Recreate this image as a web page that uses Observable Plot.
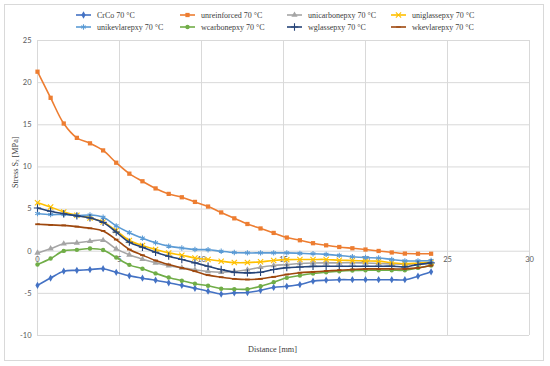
<!DOCTYPE html>
<html>
<head>
<meta charset="utf-8">
<script src="https://cdn.jsdelivr.net/npm/d3@7"></script>
<script src="https://cdn.jsdelivr.net/npm/@observablehq/plot@0.6"></script>
<style>
  html, body { margin: 0; padding: 0; background: #fff; }
  #wrap { position: relative; width: 550px; height: 366px; overflow: hidden; }
  #border { position: absolute; left: 4px; top: 4px; width: 540px; height: 357px; border: 1px solid #d9d9d9; box-sizing: border-box; }
  #chart { position: absolute; left: 0; top: 0; }
  .lg { position: absolute; display: flex; align-items: center; font-family: "Liberation Serif", serif; font-size: 8px; color: #404040; white-space: nowrap; }
  .lg svg { margin-right: 6px; }
</style>
</head>
<body>
<div id="wrap">
  <div id="border"></div>
  <div id="chart"></div>
  <div id="legend"></div>
</div>
<script>
// ---- data ----
const distance = [0, 0.8, 1.6, 2.4, 3.2, 4, 4.8, 5.6, 6.4, 7.2, 8, 8.8, 9.6, 10.4, 11.2, 12, 12.8, 13.6, 14.4, 15.2, 16, 16.8, 17.6, 18.4, 19.2, 20, 20.8, 21.6, 22.4, 23.2, 24];

const crco = [-4.05, -3.18, -2.37, -2.27, -2.18, -2.08, -2.5, -2.92, -3.2, -3.44, -3.75, -4.05, -4.4, -4.74, -5.08, -4.94, -4.9, -4.64, -4.3, -4.16, -3.95, -3.55, -3.44, -3.38, -3.38, -3.38, -3.38, -3.38, -3.38, -2.96, -2.45];
const unreinforced = [21.3, 18.2, 15.15, 13.45, 12.8, 11.96, 10.5, 9.2, 8.3, 7.45, 6.8, 6.4, 5.85, 5.3, 4.6, 3.9, 3.23, 2.7, 2.17, 1.62, 1.3, 0.95, 0.7, 0.5, 0.35, 0.2, 0.03, -0.15, -0.28, -0.3, -0.3];
const unicarbonepxy = [-0.2, 0.3, 0.88, 0.99, 1.18, 1.3, 0.28, -0.43, -0.95, -1.38, -1.73, -1.98, -2.2, -2.4, -2.49, -2.4, -2.2, -1.9, -1.7, -1.58, -1.46, -1.4, -1.38, -1.38, -1.35, -1.4, -1.45, -1.5, -1.55, -1.5, -1.45];
const uniglassepxy = [5.76, 5.25, 4.66, 4.27, 3.95, 3.47, 2.45, 1.27, 0.68, 0.2, -0.2, -0.47, -0.8, -0.98, -1.18, -1.35, -1.35, -1.26, -1.1, -1.0, -0.98, -0.98, -0.98, -1.07, -1.1, -1.15, -1.18, -1.38, -1.5, -1.4, -1.3];
const unikevlarepxy = [4.47, 4.35, 4.35, 4.23, 4.3, 4.03, 3.0, 2.2, 1.55, 1.0, 0.6, 0.38, 0.2, 0.18, 0.0, -0.15, -0.2, -0.2, -0.2, -0.2, -0.25, -0.3, -0.38, -0.5, -0.65, -0.75, -0.8, -0.98, -1.15, -1.15, -1.1];
const wcarbonepxy = [-1.58, -0.87, 0.04, 0.16, 0.32, 0.14, -0.75, -1.62, -2.08, -2.63, -3.12, -3.5, -3.85, -4.1, -4.45, -4.5, -4.5, -4.15, -3.67, -3.16, -2.88, -2.65, -2.49, -2.37, -2.29, -2.25, -2.25, -2.25, -2.25, -1.98, -1.7];
const wglassepxy = [5.13, 4.74, 4.45, 4.19, 3.95, 3.42, 2.27, 1.07, 0.47, -0.12, -0.59, -0.98, -1.38, -1.78, -2.17, -2.49, -2.57, -2.49, -2.17, -1.95, -1.88, -1.8, -1.78, -1.78, -1.78, -1.78, -1.78, -1.78, -1.86, -1.58, -1.38];
const wkevlarepxy = [3.2, 3.12, 3.06, 2.92, 2.72, 2.41, 1.38, 0.2, -0.47, -1.1, -1.58, -1.98, -2.37, -2.84, -3.08, -3.28, -3.36, -3.28, -3.04, -2.76, -2.55, -2.45, -2.35, -2.25, -2.17, -2.1, -2.1, -2.1, -2.1, -1.98, -1.7];

const seriesNames = ["CrCo 70 °C", "unreinforced 70 °C", "unicarbonepxy 70 °C", "uniglassepxy 70 °C", "unikevlarepxy 70 °C", "wcarbonepxy 70 °C", "wglassepxy 70 °C", "wkevlarepxy 70 °C"];
const seriesValues = [crco, unreinforced, unicarbonepxy, uniglassepxy, unikevlarepxy, wcarbonepxy, wglassepxy, wkevlarepxy];

const xTicks = [0, 5, 10, 15, 20, 25, 30];
const yTicks = [-10, -5, 0, 5, 10, 15, 20, 25];

// ---- styles ----
const dash = { draw(ctx, size) { const w = Math.sqrt(size) * 0.5; ctx.moveTo(-w, 0); ctx.lineTo(w, 0); } };
const styles = [
  { color: "#4472C4", symbol: "diamond", filled: true, r: 2.2 },
  { color: "#ED7D31", symbol: "square", filled: true, r: 2.4 },
  { color: "#A5A5A5", symbol: "triangle", filled: true, r: 2.3 },
  { color: "#FFC000", symbol: "times", filled: false, r: 2.5 },
  { color: "#5B9BD5", symbol: "asterisk", filled: false, r: 2.5 },
  { color: "#70AD47", symbol: "circle", filled: true, r: 2.2 },
  { color: "#264478", symbol: "plus", filled: false, r: 2.5 },
  { color: "#9E480E", symbol: dash, filled: false, r: 2.6 }
];

const rows = seriesNames.map((name, i) => distance.map((d, j) => ({ series: name, x: d, y: seriesValues[i][j] })));

const marks = [
  Plot.gridX(xTicks, { stroke: "#d9d9d9", strokeOpacity: 1, strokeWidth: 1 }),
  Plot.gridY(yTicks, { stroke: "#d9d9d9", strokeOpacity: 1, strokeWidth: 1 }),
  Plot.text(yTicks, { x: 0, y: d => d, text: d => String(d), dx: -6, textAnchor: "end", fontSize: 7.5, fill: "#595959", fontFamily: "Lato, sans-serif" }),
  Plot.text(xTicks, { x: d => d, y: 0, text: d => String(d), dy: 8, textAnchor: "middle", fontSize: 7.5, fill: "#595959", fontFamily: "Lato, sans-serif" })
];
rows.forEach((data, i) => {
  const s = styles[i];
  marks.push(Plot.line(data, { x: "x", y: "y", stroke: s.color, strokeWidth: 1.6, curve: "catmull-rom" }));
  marks.push(Plot.dot(data, s.filled
    ? { x: "x", y: "y", symbol: () => s.symbol, r: s.r, fill: s.color, stroke: "none" }
    : { x: "x", y: "y", symbol: () => s.symbol, r: s.r, stroke: s.color, strokeWidth: s.symbol === dash ? 1.8 : 1.1, fill: "none" }));
});

const chart = Plot.plot({
  width: 550,
  height: 366,
  marginLeft: 37,
  marginRight: 21,
  marginTop: 40,
  marginBottom: 31,
  x: { domain: [0, 30], axis: null },
  y: { domain: [-10, 25], axis: null },
  symbol: { type: "identity" },
  style: { background: "transparent", overflow: "visible" },
  marks: [
    ...marks,
    Plot.text(["Distance [mm]"], { frameAnchor: "bottom", dy: 16, dx: -11, text: d => d, fontSize: 8.2, fill: "#404040", fontFamily: "Liberation Serif, serif" }),
    Plot.text(["Stress Sₓ [MPa]"], { frameAnchor: "left", dx: -22, rotate: -90, text: d => d, fontSize: 8.2, fill: "#404040", fontFamily: "Liberation Serif, serif" })
  ]
});
document.getElementById("chart").appendChild(chart);

// ---- legend ----
const legend = document.getElementById("legend");
const lx = [76, 180, 287, 391];
const ly = [15, 27];
seriesNames.forEach((name, i) => {
  const s = styles[i];
  const el = document.createElement("div");
  el.className = "lg";
  el.style.left = lx[i % 4] + "px";
  el.style.top = (ly[Math.floor(i / 4)] - 6) + "px";
  el.style.height = "12px";
  const svg = d3.create("svg").attr("width", 15).attr("height", 12);
  svg.append("line").attr("x1", 0).attr("x2", 15).attr("y1", 6).attr("y2", 6).attr("stroke", s.color).attr("stroke-width", 1.6);
  const symType = typeof s.symbol === "string" ? ({ diamond: d3.symbolDiamond, square: d3.symbolSquare, triangle: d3.symbolTriangle, times: d3.symbolTimes, asterisk: d3.symbolAsterisk, circle: d3.symbolCircle, plus: d3.symbolPlus })[s.symbol] : s.symbol;
  const path = d3.symbol(symType, Math.PI * s.r * s.r)();
  const p = svg.append("path").attr("d", path).attr("transform", "translate(7.5,6)");
  if (s.filled) p.attr("fill", s.color); else p.attr("fill", "none").attr("stroke", s.color).attr("stroke-width", 1.1);
  el.appendChild(svg.node());
  const t = document.createElement("span");
  t.textContent = name;
  el.appendChild(t);
  legend.appendChild(el);
});
</script>
</body>
</html>
